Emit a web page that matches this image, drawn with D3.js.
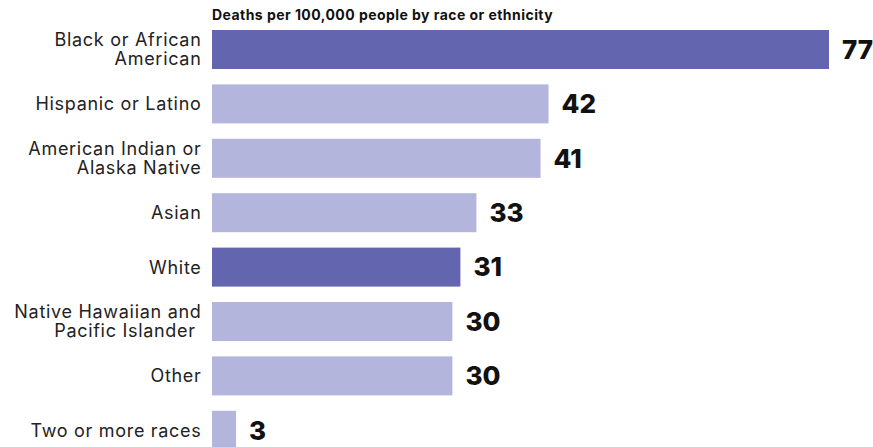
<!DOCTYPE html>
<html>
<head>
<meta charset="utf-8">
<script src="https://cdn.jsdelivr.net/npm/d3@7"></script>
<style>
html,body{margin:0;padding:0;background:#fff;}
svg{display:block;}
</style>
</head>
<body>
<svg id="chart" width="873" height="447"></svg>
<script>
const categories = [
  "Black or African American",
  "Hispanic or Latino",
  "American Indian or Alaska Native",
  "Asian",
  "White",
  "Native Hawaiian and Pacific Islander",
  "Other",
  "Two or more races"
];
const labelLines = [
  ["Black or African", "American"],
  ["Hispanic or Latino"],
  ["American Indian or", "Alaska Native"],
  ["Asian"],
  ["White"],
  ["Native Hawaiian and", "Pacific Islander "],
  ["Other"],
  ["Two or more races"]
];
const values = [77, 42, 41, 33, 31, 30, 30, 3];
const highlighted = [true, false, false, false, true, false, false, false];
const title = "Deaths per 100,000 people by race or ethnicity";

const svg = d3.select("#chart");
const font = "Inter, 'Open Sans', sans-serif";
const x = d3.scaleLinear().domain([0, 77]).range([212, 829]);
const y = d3.scaleBand().domain(categories).range([30, 449.8]).paddingInner(0.283).paddingOuter(0);

svg.append("text")
  .attr("x", 212).attr("y", 20)
  .attr("font-family", font).attr("font-weight", 700).attr("font-size", 14)
  .attr("letter-spacing", 0.45)
  .attr("fill", "#111")
  .text(title);

svg.selectAll("rect.bar").data(categories).join("rect")
  .attr("class", "bar")
  .attr("x", x(0))
  .attr("y", d => y(d))
  .attr("width", (d, i) => x(values[i]) - x(0))
  .attr("height", y.bandwidth())
  .attr("fill", (d, i) => highlighted[i] ? "#6366ae" : "#b4b5dc");

svg.selectAll("text.val").data(categories).join("text")
  .attr("class", "val")
  .attr("x", (d, i) => x(values[i]) + 13)
  .attr("y", d => y(d) + y.bandwidth() / 2)
  .attr("dy", "0.36em")
  .attr("font-family", font).attr("font-weight", 800).attr("font-size", 26)
  .attr("fill", "#111")
  .text((d, i) => values[i]);

categories.forEach((d, i) => {
  const lines = labelLines[i];
  const cy = y(d) + y.bandwidth() / 2;
  const lh = 19;
  const start = cy - (lines.length - 1) * lh / 2;
  lines.forEach((l, j) => {
    svg.append("text")
      .attr("class", "lab")
      .attr("text-anchor", "end")
      .attr("font-family", font).attr("font-size", 18)
      .attr("letter-spacing", 0.7)
      .attr("fill", "#222")
      .attr("xml:space", "preserve")
      .attr("x", 201.5)
      .attr("y", start + j * lh)
      .attr("dy", "0.36em")
      .text(l);
  });
});
</script>
</body>
</html>
